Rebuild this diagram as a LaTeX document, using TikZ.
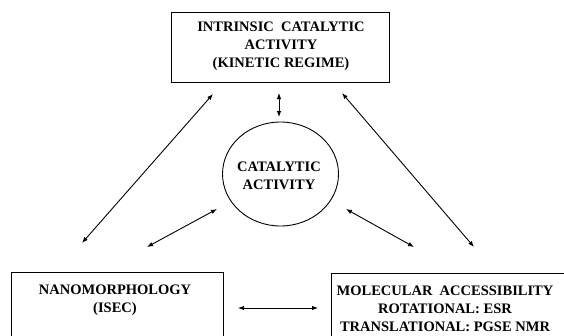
\documentclass[tikz,border=0pt]{standalone}
\usepackage{fontspec}
\setmainfont{Liberation Serif}
\usepackage{tikz}
\usetikzlibrary{shapes.geometric}
\usetikzlibrary{arrows.meta}
\usetikzlibrary{positioning}

\begin{document}
\begin{tikzpicture}[
  x=1pt, y=-1pt,
  every node/.style={font=\fontsize{14.5}{18}\selectfont\bfseries, align=center, inner sep=0pt},
  frame/.style={draw, rectangle, line width=0.9pt},
  link/.style={<->, >={Latex[length=6pt,width=4.5pt]}, line width=0.9pt}
]
\path[use as bounding box, clip] (0,0) rectangle (564,335);
\node[frame, minimum width=218, minimum height=70, anchor=north west] (topbox) at (171,12) {};
\node (intrinsic) at (281,46.5) {INTRINSIC\ \ CATALYTIC\\ACTIVITY\\(KINETIC REGIME)};
\node[draw, ellipse, line width=0.9pt, minimum width=116, minimum height=104] (cat) at (280.5,174) {};
\node (catlabel) at (279,176) {CATALYTIC\\ACTIVITY};
\node[frame, minimum width=212, minimum height=90, anchor=north west] (nanobox) at (11,272) {};
\node (nano) at (115,300) {NANOMORPHOLOGY\\(ISEC)};
\node[frame, minimum width=250, minimum height=90, anchor=north west] (molbox) at (331,273) {};
\node (mol) at (445,309) {MOLECULAR\ \ ACCESSIBILITY\\ROTATIONAL: ESR\\TRANSLATIONAL: PGSE NMR};
\coordinate (vt) at (279,93);
\coordinate (vb) at (279,117);
\coordinate (tl) at (213,94);
\coordinate (bl) at (82,243);
\coordinate (tr) at (342,93);
\coordinate (br) at (474,247);
\coordinate (cl) at (217,209);
\coordinate (nl) at (147,247);
\coordinate (cr) at (346,209);
\coordinate (mr) at (414,247);
\coordinate (hl) at (238,308);
\coordinate (hr) at (318,308);
\draw[link] (vt) -- (vb);
\draw[link] (bl) -- (tl);
\draw[link] (tr) -- (br);
\draw[link] (nl) -- (cl);
\draw[link] (cr) -- (mr);
\draw[link] (hl) -- (hr);
\end{tikzpicture}
\end{document}
